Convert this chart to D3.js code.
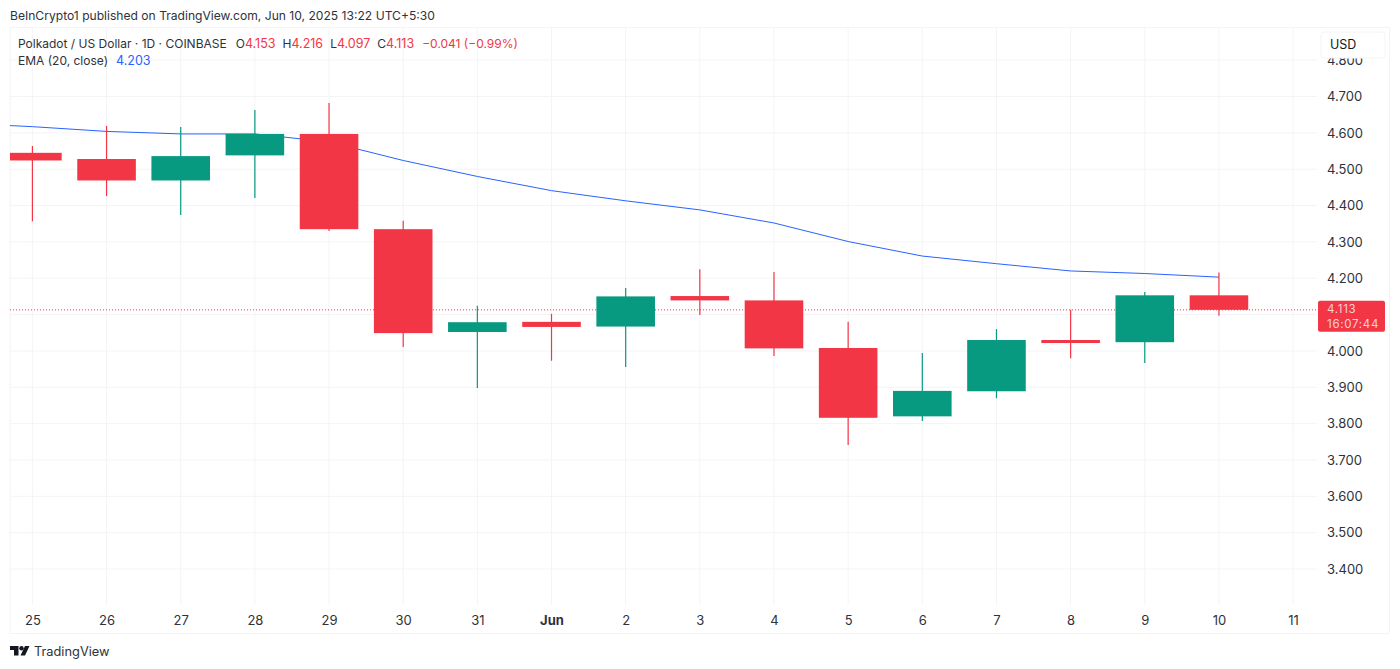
<!DOCTYPE html>
<html>
<head>
<meta charset="utf-8">
<script src="https://cdn.jsdelivr.net/npm/d3@7"></script>
<style>
  body { margin: 0; background: #fff; overflow: hidden; }
  svg { display: block; font-family: Inter, "Noto Sans", sans-serif; }
  .axis path, .axis line { display: none; }
  .axis text { fill: #2e323b; font-size: 13px; font-family: Inter, sans-serif; }
</style>
</head>
<body>
<svg id="chart" width="1400" height="669"></svg>
<script>
const days = ['25', '26', '27', '28', '29', '30', '31', 'Jun', '2', '3', '4', '5', '6', '7', '8', '9', '10', '11'];
const opens = [4.545, 4.528, 4.469, 4.538, 4.597, 4.335, 4.052, 4.080, 4.067, 4.151, 4.139, 4.008, 3.820, 3.889, 4.030, 4.024, 4.153];
const highs = [4.564, 4.619, 4.616, 4.663, 4.682, 4.358, 4.124, 4.102, 4.173, 4.225, 4.217, 4.080, 3.994, 4.060, 4.113, 4.162, 4.216];
const lows = [4.357, 4.426, 4.374, 4.421, 4.330, 4.011, 3.898, 3.973, 3.956, 4.099, 3.986, 3.741, 3.807, 3.870, 3.980, 3.967, 4.097];
const closes = [4.524, 4.469, 4.536, 4.597, 4.335, 4.049, 4.079, 4.066, 4.150, 4.139, 4.007, 3.816, 3.890, 4.030, 4.026, 4.153, 4.113];
const ema = [4.617, 4.604, 4.597, 4.597, 4.575, 4.524, 4.480, 4.441, 4.413, 4.388, 4.352, 4.301, 4.261, 4.240, 4.220, 4.213, 4.203];
const priceTicks = [3.4, 3.5, 3.6, 3.7, 3.8, 3.9, 4.0, 4.1, 4.2, 4.3, 4.4, 4.5, 4.6, 4.7, 4.8];
const lastPrice = 4.113;

const red = '#f23645';
const green = '#089981';
const blue = '#2962ff';
const grid = '#f3f4f6';
const textColor = '#2e323b';

const svg = d3.select('#chart');

const x = d3.scalePoint().domain(days).range([32.4, 1293.1]);
const y = d3.scaleLinear().domain([3.4, 4.7]).range([569, 96.5]);
const bodyWidth = x.step() * 0.79;

svg.append('defs').append('clipPath').attr('id', 'pane')
  .append('rect').attr('x', 10).attr('y', 27).attr('width', 1307).attr('height', 578);
svg.append('defs').append('clipPath').attr('id', 'labels')
  .append('rect').attr('x', 1318).attr('y', 27).attr('width', 72).attr('height', 606);

// outer frame
svg.append('path')
  .attr('d', 'M10,27.5H1389.5V633.5H10Z')
  .attr('fill', 'none').attr('stroke', grid);

// grid
const gridG = svg.append('g').attr('clip-path', 'url(#pane)');
gridG.selectAll('.gx').data(days).enter().append('line')
  .attr('x1', d => x(d)).attr('x2', d => x(d))
  .attr('y1', 27).attr('y2', 605)
  .attr('stroke', grid);
gridG.selectAll('.gy').data(priceTicks).enter().append('line')
  .attr('x1', 10).attr('x2', 1317)
  .attr('y1', d => y(d)).attr('y2', d => y(d))
  .attr('stroke', grid);

const pane = svg.append('g').attr('clip-path', 'url(#pane)');

// last price line
pane.append('line')
  .attr('x1', 10).attr('x2', 1317)
  .attr('y1', y(lastPrice)).attr('y2', y(lastPrice))
  .attr('stroke', red).attr('stroke-dasharray', '1 2');

// the EMA runs in from the left, past the clipped first candle
const emaLine = d3.line()
  .x((d, i) => x(days[i]))
  .y(d => y(d));
pane.append('path')
  .datum(ema)
  .attr('d', emaLine)
  .attr('fill', 'none')
  .attr('stroke', blue)
  .attr('stroke-width', 1);
pane.append('line')
  .attr('x1', 10).attr('x2', x(days[0]))
  .attr('y1', y(4.620)).attr('y2', y(ema[0]))
  .attr('stroke', blue);

// candles
const candles = opens.map((o, i) => ({ day: days[i], o: o, h: highs[i], l: lows[i], c: closes[i] }));
const color = d => d.c >= d.o ? green : red;

pane.selectAll('.wick').data(candles).enter().append('line')
  .attr('x1', d => x(d.day)).attr('x2', d => x(d.day))
  .attr('y1', d => y(d.h)).attr('y2', d => y(d.l))
  .attr('stroke', color)
  .attr('stroke-width', 1.2);
pane.selectAll('.body').data(candles).enter().append('rect')
  .attr('x', d => x(d.day) - bodyWidth / 2)
  .attr('width', bodyWidth)
  .attr('y', d => y(Math.max(d.o, d.c)))
  .attr('height', d => Math.max(3, Math.abs(y(d.o) - y(d.c))))
  .attr('fill', color);

// price axis, the 4.100 label sits behind the price tag so it is left out
svg.append('g').attr('clip-path', 'url(#labels)')
  .append('g').attr('class', 'axis')
  .attr('transform', 'translate(1318,0)')
  .call(d3.axisRight(y).tickValues(priceTicks.filter(d => d !== 4.1)).tickFormat(d3.format('.3f')).tickSize(0).tickPadding(9));

// time axis
const timeAxis = svg.append('g').attr('class', 'axis')
  .attr('transform', 'translate(0,612.5)')
  .call(d3.axisBottom(x).tickSize(0).tickPadding(3));
timeAxis.selectAll('text').filter(d => d === 'Jun').style('font-weight', 700);

// price tag
svg.append('rect')
  .attr('x', 1318).attr('y', y(lastPrice) - 9).attr('width', 67).attr('height', 31).attr('rx', 2)
  .attr('fill', red);
svg.append('text').attr('x', 1327).attr('y', y(lastPrice) + 3.6)
  .attr('fill', '#fbd0d4').attr('font-size', 11.5).attr('letter-spacing', 0.7).text(d3.format('.3f')(lastPrice));
svg.append('text').attr('x', 1327).attr('y', y(lastPrice) + 18.2)
  .attr('fill', '#fbd0d4').attr('font-size', 11.5).attr('letter-spacing', 0.7).text('16:07:44');

// currency button
svg.append('rect')
  .attr('x', 1321).attr('y', 32).attr('width', 64).attr('height', 26).attr('rx', 3)
  .attr('fill', '#fff').attr('stroke', grid);
svg.append('text').attr('x', 1330).attr('y', 49).attr('fill', '#131722').attr('font-size', 12.5).text('USD');

// header
svg.append('text').attr('x', 10).attr('y', 20).attr('fill', textColor).attr('font-size', 12.1)
  .text('BeInCrypto1 published on TradingView.com, Jun 10, 2025 13:22 UTC+5:30');

const legend = svg.append('text').attr('x', 18).attr('y', 48).attr('font-size', 12).attr('fill', textColor);
legend.append('tspan').text('Polkadot / US Dollar · 1D · COINBASE');
[['O', opens], ['H', highs], ['L', lows], ['C', closes]].forEach(([k, arr], i) => {
  legend.append('tspan').attr('dx', i ? 7 : 9).text(k);
  legend.append('tspan').attr('fill', red).attr('font-size', 12.5).text(d3.format('.3f')(arr[arr.length - 1]));
});
legend.append('tspan').attr('dx', 8).attr('fill', red).text('−0.041 (−0.99%)');

const legend2 = svg.append('text').attr('x', 18).attr('y', 65).attr('font-size', 12).attr('fill', textColor);
legend2.append('tspan').text('EMA (20, close)');
legend2.append('tspan').attr('dx', 8).attr('fill', blue).attr('font-size', 12.5).text(d3.format('.3f')(ema[ema.length - 1]));

// logo
const logo = svg.append('g').attr('transform', 'translate(10,646)').attr('fill', '#131722');
logo.append('path').attr('d', 'M0,0H8.5V9.5H4V4H0Z');
logo.append('circle').attr('cx', 11.5).attr('cy', 2.2).attr('r', 2.2);
logo.append('path').attr('d', 'M15,0H19.5L15,9.5H10.5Z');
svg.append('text').attr('x', 34).attr('y', 656).attr('fill', textColor).attr('font-size', 12.8).text('TradingView');
</script>
</body>
</html>
